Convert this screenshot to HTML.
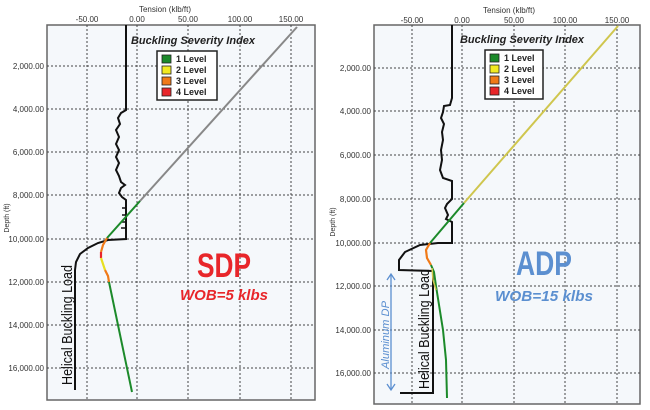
<!DOCTYPE html>
<html><head><meta charset="utf-8"><style>
body{margin:0;background:#fff}
svg{display:block;font-family:"Liberation Sans",sans-serif}
</style></head><body>
<svg width="650" height="410" viewBox="0 0 650 410" xmlns="http://www.w3.org/2000/svg">
<!-- LEFT PANEL -->
<g>
<rect x="47" y="25" width="268" height="375" fill="#f5f8fb" stroke="#666" stroke-width="1.5"/>
<g stroke="#444" stroke-width="1" stroke-dasharray="2,2">
<line x1="87" y1="25" x2="87" y2="400"/><line x1="137" y1="25" x2="137" y2="400"/><line x1="188" y1="25" x2="188" y2="400"/><line x1="240" y1="25" x2="240" y2="400"/><line x1="291" y1="25" x2="291" y2="400"/>
<line x1="47" y1="66" x2="315" y2="66"/><line x1="47" y1="109" x2="315" y2="109"/><line x1="47" y1="152" x2="315" y2="152"/><line x1="47" y1="195" x2="315" y2="195"/><line x1="47" y1="239" x2="315" y2="239"/><line x1="47" y1="282" x2="315" y2="282"/><line x1="47" y1="325" x2="315" y2="325"/><line x1="47" y1="368" x2="315" y2="368"/>
</g>
<g font-size="8" fill="#333" text-anchor="middle">
<text x="165" y="12">Tension (klb/ft)</text>
<text x="87" y="22">-50.00</text><text x="137" y="22">0.00</text><text x="188" y="22">50.00</text><text x="240" y="22">100.00</text><text x="291" y="22">150.00</text>
</g>
<g font-size="8" fill="#333" text-anchor="end">
<text x="44" y="69">2,000.00</text><text x="44" y="112">4,000.00</text><text x="44" y="155">6,000.00</text><text x="44" y="198">8,000.00</text><text x="44" y="242">10,000.00</text><text x="44" y="285">12,000.00</text><text x="44" y="328">14,000.00</text><text x="44" y="371">16,000.00</text>
</g>
<text transform="translate(9,218) rotate(-90)" font-size="7" fill="#333" text-anchor="middle">Depth (ft)</text>
<polyline fill="none" stroke="#111" stroke-width="2" points="126,25 126,110 121,113 118,118 120,124 116,130 119,137 116,144 119,150 116,157 119,163 116,170 119,176 121,182 125,185 121,188 119,193 122,197 126,200 126,239 108,240 98,243 88,248 80,254 76,262 75,270 75,390"/>
<g stroke="#111" stroke-width="1.5"><line x1="122" y1="208" x2="126" y2="208"/><line x1="122" y1="215" x2="126" y2="215"/><line x1="122" y1="222" x2="126" y2="222"/><line x1="121" y1="228" x2="126" y2="228"/></g>
<polyline fill="none" stroke="#888" stroke-width="2" points="297,27 140,201"/>
<polyline fill="none" stroke="#1c8a2a" stroke-width="2" points="140,201 107,238"/>
<polyline fill="none" stroke="#f07a18" stroke-width="2.2" points="107,238 103,245 101,252"/>
<polyline fill="none" stroke="#e8262a" stroke-width="2.2" points="101,252 101,258"/>
<polyline fill="none" stroke="#e8e020" stroke-width="2.2" points="101,258 103,264 105,270"/>
<polyline fill="none" stroke="#f07a18" stroke-width="2.2" points="105,270 108,276 109,282"/>
<polyline fill="none" stroke="#1c8a2a" stroke-width="2" points="109,282 132,392"/>
<text x="193" y="44" font-size="11" font-weight="bold" font-style="italic" fill="#222" text-anchor="middle">Buckling Severity Index</text>
<rect x="157" y="51" width="60" height="49" fill="#fff" stroke="#222" stroke-width="1.5"/>
<g font-size="9" font-weight="bold" fill="#222">
<rect x="162" y="55" width="9" height="8" fill="#1c8a2a" stroke="#222" stroke-width=".8"/><text x="176" y="62">1 Level</text>
<rect x="162" y="66" width="9" height="8" fill="#f2ea22" stroke="#222" stroke-width=".8"/><text x="176" y="73">2 Level</text>
<rect x="162" y="77" width="9" height="8" fill="#f07a18" stroke="#222" stroke-width=".8"/><text x="176" y="84">3 Level</text>
<rect x="162" y="88" width="9" height="8" fill="#e8262a" stroke="#222" stroke-width=".8"/><text x="176" y="95">4 Level</text>
</g>
<text x="224" y="277" font-size="34" font-weight="bold" fill="#e8262a" text-anchor="middle" textLength="54" lengthAdjust="spacingAndGlyphs">SDP</text>
<text x="224" y="300" font-size="15" font-weight="bold" font-style="italic" fill="#e8262a" text-anchor="middle" textLength="88" lengthAdjust="spacingAndGlyphs">WOB=5 klbs</text>
<text transform="translate(72,325) rotate(-90)" font-size="15" fill="#111" text-anchor="middle" textLength="120" lengthAdjust="spacingAndGlyphs">Helical Buckling Load</text>
</g>
<!-- RIGHT PANEL -->
<g>
<rect x="374" y="25" width="266" height="379" fill="#f5f8fb" stroke="#666" stroke-width="1.5"/>
<g stroke="#444" stroke-width="1" stroke-dasharray="2,2">
<line x1="412" y1="25" x2="412" y2="404"/><line x1="462" y1="25" x2="462" y2="404"/><line x1="514" y1="25" x2="514" y2="404"/><line x1="565" y1="25" x2="565" y2="404"/><line x1="617" y1="25" x2="617" y2="404"/>
<line x1="374" y1="68" x2="640" y2="68"/><line x1="374" y1="111" x2="640" y2="111"/><line x1="374" y1="155" x2="640" y2="155"/><line x1="374" y1="199" x2="640" y2="199"/><line x1="374" y1="243" x2="640" y2="243"/><line x1="374" y1="286" x2="640" y2="286"/><line x1="374" y1="330" x2="640" y2="330"/><line x1="374" y1="373" x2="640" y2="373"/>
</g>
<g font-size="8" fill="#333" text-anchor="middle">
<text x="509" y="13">Tension (klb/ft)</text>
<text x="412" y="23">-50.00</text><text x="462" y="23">0.00</text><text x="514" y="23">50.00</text><text x="565" y="23">100.00</text><text x="617" y="23">150.00</text>
</g>
<g font-size="8" fill="#333" text-anchor="end">
<text x="371" y="71">2,000.00</text><text x="371" y="114">4,000.00</text><text x="371" y="158">6,000.00</text><text x="371" y="202">8,000.00</text><text x="371" y="246">10,000.00</text><text x="371" y="289">12,000.00</text><text x="371" y="333">14,000.00</text><text x="371" y="376">16,000.00</text>
</g>
<text transform="translate(335,222) rotate(-90)" font-size="7" fill="#333" text-anchor="middle">Depth (ft)</text>
<polyline fill="none" stroke="#111" stroke-width="2" points="452,25 452,98 450,105 444,106 443,112 441,118 444,124 442,132 443,140 441,150 442,160 440,170 443,178 452,181 452,199 447,204 445,208 448,215 446,219 452,222 452,243 438,243 420,245 405,252 399,260 399,270 433,271 433,393 400,393"/>
<polyline fill="none" stroke="#cfc64e" stroke-width="2" points="618,26 464,203"/>
<polyline fill="none" stroke="#1c8a2a" stroke-width="2" points="464,203 430,243"/>
<polyline fill="none" stroke="#f07a18" stroke-width="2.2" points="430,243 426,250 427,258 431,265"/>
<polyline fill="none" stroke="#1c8a2a" stroke-width="2" points="431,265 434,272 436,286 443,330 446,360 447,398"/>
<polyline fill="none" stroke="#cfc64e" stroke-width="1.5" points="432,268 433,280 436,290"/>
<text x="522" y="43" font-size="11" font-weight="bold" font-style="italic" fill="#222" text-anchor="middle">Buckling Severity Index</text>
<rect x="485" y="50" width="58" height="49" fill="#fff" stroke="#222" stroke-width="1.5"/>
<g font-size="9" font-weight="bold" fill="#222">
<rect x="490" y="54" width="9" height="8" fill="#1c8a2a" stroke="#222" stroke-width=".8"/><text x="504" y="61">1 Level</text>
<rect x="490" y="65" width="9" height="8" fill="#f2ea22" stroke="#222" stroke-width=".8"/><text x="504" y="72">2 Level</text>
<rect x="490" y="76" width="9" height="8" fill="#f07a18" stroke="#222" stroke-width=".8"/><text x="504" y="83">3 Level</text>
<rect x="490" y="87" width="9" height="8" fill="#e8262a" stroke="#222" stroke-width=".8"/><text x="504" y="94">4 Level</text>
</g>
<text x="544" y="275" font-size="34" font-weight="bold" fill="#5b8fd0" text-anchor="middle" textLength="56" lengthAdjust="spacingAndGlyphs">ADP</text>
<text x="544" y="301" font-size="15" font-weight="bold" font-style="italic" fill="#5b8fd0" text-anchor="middle" textLength="98" lengthAdjust="spacingAndGlyphs">WOB=15 klbs</text>
<text transform="translate(429,329) rotate(-90)" font-size="15" fill="#111" text-anchor="middle" textLength="120" lengthAdjust="spacingAndGlyphs">Helical Buckling Load</text>
<text transform="translate(389,335) rotate(-90)" font-size="11" font-style="italic" fill="#5b8fd0" text-anchor="middle" textLength="68" lengthAdjust="spacingAndGlyphs">Aluminum DP</text>
<line x1="391" y1="275" x2="391" y2="389" stroke="#5b8fd0" stroke-width="1.3"/>
<polyline fill="none" stroke="#5b8fd0" stroke-width="1.3" points="387,280 391,274 395,280"/>
<polyline fill="none" stroke="#5b8fd0" stroke-width="1.3" points="387,384 391,390 395,384"/>
</g>
</svg>
</body></html>
